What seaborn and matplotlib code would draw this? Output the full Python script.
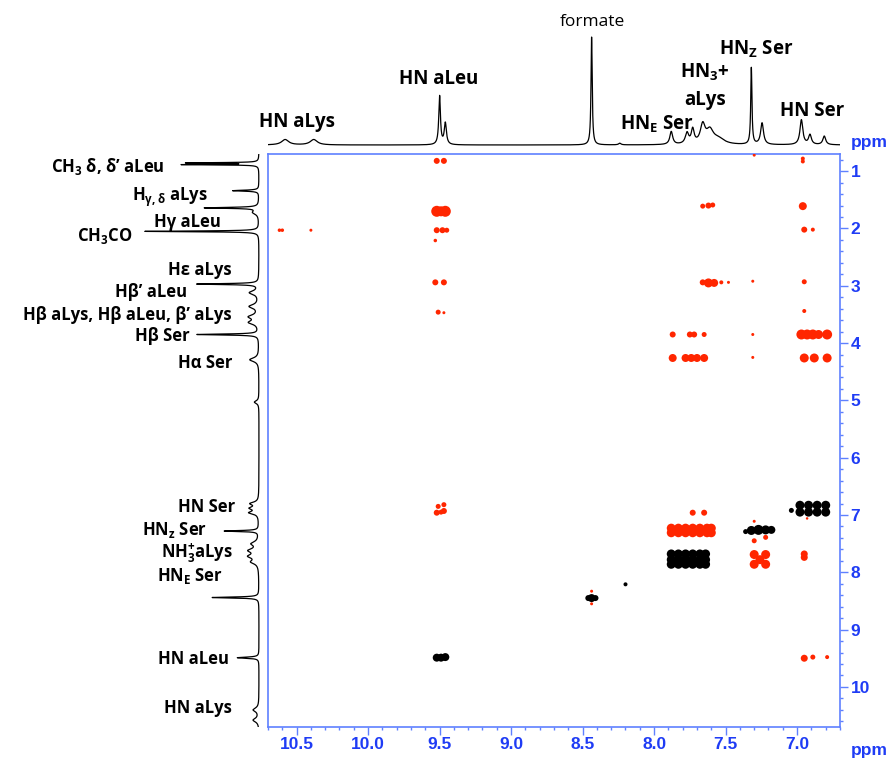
import numpy as np
import pandas as pd
import matplotlib
matplotlib.use("Agg")
import matplotlib.pyplot as plt
from matplotlib.ticker import MultipleLocator, FormatStrFormatter
import seaborn as sns

sns.set_theme(style="white")
LABEL_FONT = 'Open Sans'
plt.rcParams['font.family'] = [LABEL_FONT, 'DejaVu Sans']
plt.rcParams['mathtext.fontset'] = 'custom'
plt.rcParams['mathtext.rm'] = LABEL_FONT + ':bold'
plt.rcParams['mathtext.bf'] = LABEL_FONT + ':bold'
plt.rcParams['mathtext.it'] = LABEL_FONT + ':bold'
plt.rcParams['mathtext.fallback'] = 'stixsans'

# ---------------- data ----------------
# top 1D 1H spectrum (peak list: ppm, relative height, half-width ppm)
top_pos = [10.58, 10.38, 9.50, 9.46, 8.437, 8.24, 7.88, 7.77, 7.73, 7.66, 7.61, 7.55,
           7.32, 7.245, 6.97, 6.91, 6.81]
top_height = [0.05, 0.05, 0.45, 0.20, 1.0, 0.015, 0.12, 0.10, 0.13, 0.17, 0.12, 0.05,
              0.71, 0.20, 0.23, 0.09, 0.08]
top_width = [0.03, 0.03, 0.007, 0.009, 0.005, 0.01, 0.012, 0.014, 0.012, 0.02, 0.03, 0.05,
             0.005, 0.012, 0.012, 0.012, 0.012]

# left 1D 1H spectrum
left_pos = [0.855, 0.885, 1.34, 1.64, 1.72, 2.05, 2.97, 3.12, 3.36, 3.54, 3.64, 3.85, 4.29,
            5.03, 6.80, 6.88, 6.96, 7.28, 7.50, 7.62, 7.72, 7.82, 8.44, 9.49, 10.40, 10.58]
left_height = [0.62, 0.66, 0.23, 0.47, 0.05, 1.0, 0.54, 0.08, 0.08, 0.08, 0.08, 0.54, 0.08,
               0.04, 0.07, 0.07, 0.08, 0.30, 0.06, 0.08, 0.08, 0.06, 0.41, 0.19, 0.05, 0.05]
left_width = [0.006, 0.006, 0.01, 0.01, 0.04, 0.008, 0.01, 0.04, 0.04, 0.04, 0.04, 0.01, 0.04,
              0.03, 0.03, 0.03, 0.03, 0.01, 0.04, 0.04, 0.04, 0.04, 0.01, 0.012, 0.04, 0.04]

# 2D cross peaks: x (ppm), y (ppm), blob diameter (px)
red_x = [9.52, 9.47, 9.52, 9.46, 9.49, 9.52, 9.48, 9.45, 9.53, 9.53, 9.47, 9.51, 9.47,
         10.62, 10.60, 10.40,
         9.52, 9.47, 9.51, 9.47, 9.49,
         8.437, 8.437,
         7.30, 7.31, 7.31, 7.31,
         7.66, 7.62, 7.59,
         7.66, 7.62, 7.58, 7.53, 7.48,
         6.96, 6.96, 6.96, 6.95, 6.89, 6.95, 6.95,
         7.87, 7.75, 7.72, 7.65, 6.97, 6.93, 6.89, 6.85, 6.79,
         7.87, 7.78, 7.74, 7.70, 7.65, 6.95, 6.88, 6.79,
         7.73, 7.65,
         7.88, 7.83, 7.78, 7.73, 7.68, 7.63, 7.60,
         7.88, 7.83, 7.78, 7.73, 7.68, 7.63, 7.60,
         7.30, 7.30, 7.22,
         7.30, 7.22, 7.30, 7.22, 7.26,
         6.95, 6.95, 6.95, 6.89, 6.79, 6.93]
red_y = [0.82, 0.82, 1.70, 1.70, 1.70, 2.03, 2.03, 2.03, 2.21, 2.94, 2.94, 3.46, 3.47,
         2.03, 2.03, 2.03,
         6.96, 6.93, 6.85, 6.82, 6.95,
         8.33, 8.55,
         0.72, 2.92, 3.85, 4.25,
         1.61, 1.60, 1.59,
         2.94, 2.95, 2.95, 2.94, 2.94,
         0.78, 0.83, 1.61, 2.02, 2.02, 2.93, 3.44,
         3.85, 3.85, 3.85, 3.85, 3.85, 3.85, 3.85, 3.85, 3.85,
         4.26, 4.26, 4.26, 4.26, 4.26, 4.26, 4.26, 4.26,
         6.96, 6.96,
         7.23, 7.23, 7.23, 7.23, 7.23, 7.23, 7.23,
         7.31, 7.31, 7.31, 7.31, 7.31, 7.31, 7.31,
         7.11, 7.45, 7.39,
         7.69, 7.69, 7.86, 7.86, 7.78,
         7.68, 7.74, 9.50, 9.48, 9.48, 7.06]
red_d = [6, 6, 11, 11, 10, 6, 6, 5, 3.5, 6, 6, 5, 3,
         3.5, 3.5, 3,
         6, 6, 5, 5, 5,
         3, 3,
         3, 3, 3, 3,
         5, 6, 5,
         6, 9, 8, 4, 3,
         4, 4, 8, 6, 4, 5, 4,
         6, 6, 6, 5, 10, 10, 10, 9, 10,
         8, 8, 8, 8, 8, 9, 9, 9,
         6, 6,
         9, 9, 9, 9, 9, 9, 9,
         9, 9, 9, 9, 9, 9, 9,
         3, 5, 5,
         9, 9, 9, 9, 9,
         7, 7, 7, 5, 4, 2.5]

black_x = [9.52, 9.49, 9.46,
           8.46, 8.437, 8.41, 8.20,
           7.88, 7.83, 7.78, 7.73, 7.68, 7.64,
           7.88, 7.83, 7.78, 7.73, 7.68, 7.64,
           7.88, 7.83, 7.78, 7.73, 7.68, 7.64,
           7.36, 7.32, 7.27, 7.22, 7.18,
           7.04, 6.98, 6.98, 6.92, 6.92, 6.86, 6.86, 6.80, 6.80]
black_y = [9.49, 9.49, 9.48,
           8.45, 8.45, 8.45, 8.21,
           7.68, 7.68, 7.68, 7.68, 7.68, 7.68,
           7.78, 7.78, 7.78, 7.78, 7.78, 7.78,
           7.86, 7.86, 7.86, 7.86, 7.86, 7.86,
           7.29, 7.27, 7.26, 7.26, 7.26,
           6.92, 6.83, 6.95, 6.83, 6.95, 6.83, 6.95, 6.83, 6.95]
black_d = [8, 8, 8,
           6, 8, 6, 4,
           9, 9, 9, 9, 9, 9,
           9, 9, 9, 9, 9, 9,
           9, 9, 9, 9, 9, 9,
           5, 9, 10, 9, 8,
           5, 9, 9, 9, 9, 9, 9, 9, 9]

x_ticks = [10.5, 10.0, 9.5, 9.0, 8.5, 8.0, 7.5, 7.0]
y_ticks = [1, 2, 3, 4, 5, 6, 7, 8, 9, 10]

top_labels = [
    ("HN aLys", 297, 120, 'bold'),
    ("HN aLeu", 439, 77, 'bold'),
    ("formate", 592, 20, 'normal'),
    ("HN$_\\mathregular{E}$ Ser", 657, 122, 'bold'),
    ("HN$_\\mathregular{3}$+", 705, 70, 'bold'),
    ("aLys", 705, 97, 'bold'),
    ("HN$_\\mathregular{Z}$ Ser", 756, 47, 'bold'),
    ("HN Ser", 812, 108, 'bold'),
]
left_labels = [
    ("CH$_\\mathregular{3}$ δ, δ’ aLeu", 165, 164),
    ("H$_\\mathregular{γ, δ}$ aLys", 208, 193),
    ("Hγ aLeu", 221, 220),
    ("CH$_\\mathregular{3}$CO", 132, 233),
    ("Hε aLys", 232, 268),
    ("Hβ’ aLeu", 187, 290),
    ("Hβ aLys, Hβ aLeu, β’ aLys", 232, 313),
    ("Hβ Ser", 190, 334),
    ("Hα Ser", 232, 361),
    ("HN Ser", 235, 505),
    ("HN$_\\mathregular{z}$ Ser", 207, 528),
    ("NH$_\\mathregular{3}^\\mathregular{+}$aLys", 233, 550),
    ("HN$_\\mathregular{E}$ Ser", 223, 574),
    ("HN aLeu", 229, 657),
    ("HN aLys", 232, 706),
]

# ---------------- figure ----------------
W, H = 892, 758
fig = plt.figure(figsize=(W / 100, H / 100), dpi=100)
fig.patch.set_facecolor('white')

def rect(x0, y0, x1, y1):
    return [x0 / W, 1 - y1 / H, (x1 - x0) / W, (y1 - y0) / H]

BLUE_SP = '#5f80ff'
BLUE_TX = '#1f3cf5'
RED = '#ff2600'

ax = fig.add_axes(rect(268, 154, 840, 727))
ax_top = fig.add_axes(rect(268, 30, 840, 148))
ax_left = fig.add_axes(rect(130, 154, 266, 727))

def lorentz_sum(grid, pos, hgt, wid):
    g = np.asarray(grid)[:, None]
    p = np.asarray(pos)[None, :]
    h = np.asarray(hgt)[None, :]
    w = np.asarray(wid)[None, :]
    return (h / (1 + ((g - p) / w) ** 2)).sum(axis=1)

# top spectrum
gx = np.linspace(10.7, 6.7, 7000)
top_df = pd.DataFrame({'ppm': gx, 'I': lorentz_sum(gx, top_pos, top_height, top_width)})
sns.lineplot(data=top_df, x='ppm', y='I', ax=ax_top, color='black', lw=0.9,
             estimator=None, sort=False)
ax_top.set_xlim(10.7, 6.7)
ax_top.set_ylim(-0.0278, 1.0648)
ax_top.axis('off')

# left spectrum
gy = np.linspace(0.7, 10.7, 12000)
left_df = pd.DataFrame({'ppm': gy, 'I': lorentz_sum(gy, left_pos, left_height, left_width)})
sns.lineplot(data=left_df, x='I', y='ppm', ax=ax_left, color='black', lw=0.9,
             estimator=None, sort=False, orient='y')
ax_left.set_xlim(1.1316, -0.0614)
ax_left.set_ylim(10.7, 0.7)
ax_left.axis('off')

# 2D peaks
def px_to_area(d):
    return (np.asarray(d, dtype=float) * 0.72) ** 2

red_df = pd.DataFrame({'x': red_x, 'y': red_y})
blk_df = pd.DataFrame({'x': black_x, 'y': black_y})
sns.scatterplot(data=red_df, x='x', y='y', ax=ax, color=RED, s=px_to_area(red_d),
                linewidth=0, legend=False, zorder=3)
sns.scatterplot(data=blk_df, x='x', y='y', ax=ax, color='black', s=px_to_area(black_d),
                linewidth=0, legend=False, zorder=4)

ax.set_xlim(10.7, 6.7)
ax.set_ylim(10.7, 0.7)
ax.set_xlabel('')
ax.set_ylabel('')
ax.set_xticks(x_ticks)
ax.set_yticks(y_ticks)
ax.xaxis.set_major_formatter(FormatStrFormatter('%.1f'))
ax.xaxis.set_minor_locator(MultipleLocator(0.1))
ax.yaxis.set_minor_locator(MultipleLocator(0.2))
ax.yaxis.tick_right()
ax.xaxis.tick_bottom()
for sp in ax.spines.values():
    sp.set_color(BLUE_SP)
    sp.set_linewidth(1.2)
ax.tick_params(axis='both', which='major', direction='out', length=5.5, width=1,
               color=BLUE_SP, labelcolor=BLUE_TX, pad=2)
ax.tick_params(axis='both', which='minor', direction='out', length=2.5, width=1,
               color=BLUE_SP)
for lab in ax.get_xticklabels() + ax.get_yticklabels():
    lab.set_fontfamily(['Liberation Sans', 'DejaVu Sans'])
    lab.set_fontweight('bold')
    lab.set_fontsize(12.5)
ax.set_facecolor('white')

ppm_kw = dict(color=BLUE_TX, fontsize=12.5, fontweight='bold',
              family=['Liberation Sans', 'DejaVu Sans'], ha='center', va='center')
fig.text(869 / W, 1 - 143 / H, 'ppm', **ppm_kw)
fig.text(869 / W, 1 - 750 / H, 'ppm', **ppm_kw)

for txt, x, y, wt in top_labels:
    fig.text(x / W, 1 - y / H, txt, ha='center', va='center_baseline',
             fontsize=13.5 if wt == 'bold' else 12.5, fontweight=wt, color='black')

for txt, x, y in left_labels:
    fig.text(x / W, 1 - y / H, txt, ha='right', va='center_baseline',
             fontsize=12, fontweight='bold', color='black')

fig.savefig('out.png', dpi=100, facecolor='white')
